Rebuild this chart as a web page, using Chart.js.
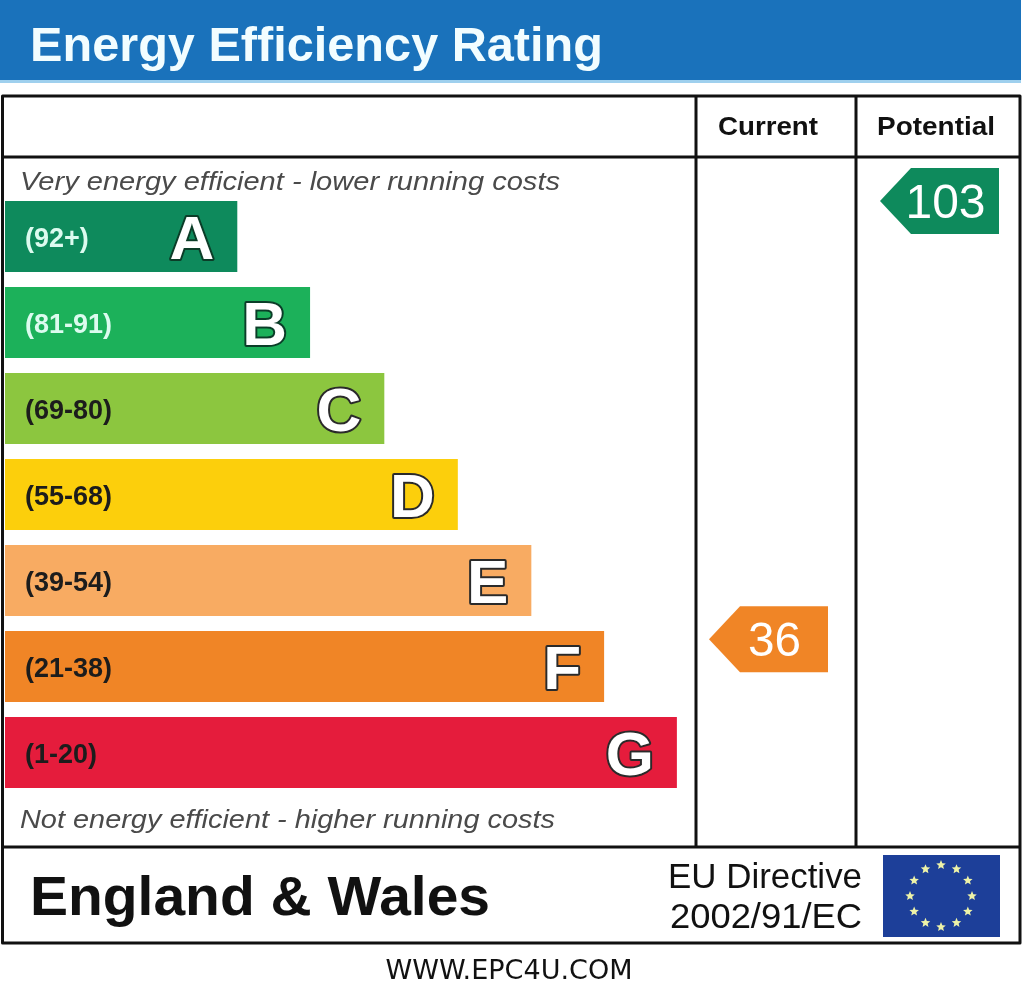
<!DOCTYPE html>
<html>
<head>
<meta charset="utf-8">
<title>Energy Efficiency Rating</title>
<script src="https://cdn.jsdelivr.net/npm/chart.js@4.4.0/dist/chart.umd.min.js"></script>
<style>
  html, body { margin: 0; padding: 0; background: #fff; }
  #wrap { width: 1024px; height: 993px; }
</style>
</head>
<body>
<div id="wrap"><canvas id="epcChart" width="1024" height="993"></canvas></div>
<script>
// Bands, most efficient first
var bandLetters = ['A', 'B', 'C', 'D', 'E', 'F', 'G'];
var bandRanges = ['(92+)', '(81-91)', '(69-80)', '(55-68)', '(39-54)', '(21-38)', '(1-20)'];
var bandMin = [92, 81, 69, 55, 39, 21, 1];
var bandMax = [100, 91, 80, 68, 54, 38, 20];
// relative bar length of each band
var bandLengths = [3.16, 4.15, 5.16, 6.16, 7.16, 8.15, 9.14];
var bandColors = ['#0e8a5c', '#1cb15a', '#8cc63f', '#fccf0c', '#f8ab62', '#f08526', '#e51c3c'];

var currentScore = 36;
var potentialScore = 103;

var FONT = 'Arial, "Liberation Sans", Arimo, Helvetica, sans-serif';
var LINE = '#111';

function bandOf(score) {
  for (var i = 0; i < bandMin.length; i++) {
    if (score >= bandMin[i]) return i;
  }
  return bandMin.length - 1;
}

// vertical position of a score inside its band's bar
function scoreY(chart, score) {
  var i = bandOf(score);
  var bar = chart.getDatasetMeta(0).data[i];
  var top = bar.y - bar.height / 2;
  var f = (bandMax[i] - score) / (bandMax[i] - bandMin[i]);
  f = Math.max(0, Math.min(1, f));
  return { y: top + f * bar.height, color: bandColors[i] };
}

// draw text stretched to a given width
function fitText(ctx, text, x, y, w, align) {
  var m = ctx.measureText(text).width;
  var left = align === 'center' ? x - w / 2 : (align === 'right' ? x - w : x);
  ctx.save();
  ctx.textAlign = 'left';
  ctx.translate(left, y);
  ctx.scale(w / m, 1);
  ctx.fillText(text, 0, 0);
  ctx.restore();
}

function drawArrow(ctx, tipX, rightX, cy, color, text, textW) {
  var h = 33, notch = 31;
  ctx.fillStyle = color;
  ctx.beginPath();
  ctx.moveTo(tipX, cy);
  ctx.lineTo(tipX + notch, cy - h);
  ctx.lineTo(rightX, cy - h);
  ctx.lineTo(rightX, cy + h);
  ctx.lineTo(tipX + notch, cy + h);
  ctx.closePath();
  ctx.fill();
  ctx.fillStyle = '#fff';
  ctx.font = '48px ' + FONT;
  ctx.textBaseline = 'alphabetic';
  fitText(ctx, text, (tipX + rightX) / 2 + 6, cy + 17, textW, 'center');
}

function drawStar(ctx, cx, cy, r) {
  ctx.beginPath();
  for (var k = 0; k < 10; k++) {
    var a = -Math.PI / 2 + k * Math.PI / 5;
    var rr = k % 2 === 0 ? r : r * 0.45;
    ctx.lineTo(cx + rr * Math.cos(a), cy + rr * Math.sin(a));
  }
  ctx.closePath();
  ctx.fill();
}

var epcPlugin = {
  id: 'epcFrame',
  beforeDraw: function(chart) {
    var ctx = chart.ctx;
    ctx.save();
    ctx.fillStyle = '#fff';
    ctx.fillRect(0, 0, chart.width, chart.height);
    // title band
    ctx.fillStyle = '#1a72bb';
    ctx.fillRect(0, 0, 1021, 80);
    ctx.fillStyle = '#9fd0ee';
    ctx.fillRect(0, 80, 1021, 3);
    ctx.fillStyle = '#f2fdff';
    ctx.font = 'bold 49px ' + FONT;
    ctx.textBaseline = 'alphabetic';
    fitText(ctx, 'Energy Efficiency Rating', 30, 61, 573, 'left');
    ctx.restore();
  },
  afterDatasetsDraw: function(chart) {
    var ctx = chart.ctx;
    var area = chart.chartArea;
    var bars = chart.getDatasetMeta(0).data;
    ctx.save();
    ctx.textBaseline = 'alphabetic';

    // band labels and letters
    bars.forEach(function(bar, i) {
      ctx.textAlign = 'left';
      ctx.font = 'bold 27px ' + FONT;
      ctx.fillStyle = i < 2 ? '#dcfbef' : '#1c1c1c';
      ctx.fillText(bandRanges[i], 25, bar.y + 10);

      ctx.font = 'bold 62px ' + FONT;
      ctx.textAlign = 'right';
      ctx.lineJoin = 'round';
      ctx.lineWidth = 4;
      ctx.strokeStyle = i < 2 ? '#0b3d28' : '#2a2a2a';
      ctx.strokeText(bandLetters[i], bar.x - 23, bar.y + 22);
      ctx.fillStyle = '#fff';
      ctx.fillText(bandLetters[i], bar.x - 23, bar.y + 22);
    });

    // italic captions
    ctx.fillStyle = '#4a4a4a';
    ctx.font = 'italic 26px ' + FONT;
    fitText(ctx, 'Very energy efficient - lower running costs', 20, 190, 540, 'left');
    fitText(ctx, 'Not energy efficient - higher running costs', 20, 828, 535, 'left');

    // table frame
    var colA = area.right, colB = 856, right = 1020;
    ctx.strokeStyle = LINE;
    ctx.lineWidth = 3;
    ctx.strokeRect(2.5, 96, right - 2.5, 847);
    ctx.beginPath();
    ctx.moveTo(2.5, 157); ctx.lineTo(right, 157);
    ctx.moveTo(2.5, 847); ctx.lineTo(right, 847);
    ctx.moveTo(colA, 96); ctx.lineTo(colA, 847);
    ctx.moveTo(colB, 96); ctx.lineTo(colB, 847);
    ctx.stroke();

    // column headers
    ctx.fillStyle = '#111';
    ctx.font = 'bold 26px ' + FONT;
    fitText(ctx, 'Current', (colA + colB) / 2 - 8, 135, 100, 'center');
    fitText(ctx, 'Potential', (colB + right) / 2 - 2, 135, 118, 'center');

    // rating arrows
    var cur = scoreY(chart, currentScore);
    drawArrow(ctx, colA + 13, colB - 28, cur.y, cur.color, String(currentScore), 53);
    var pot = scoreY(chart, potentialScore);
    drawArrow(ctx, colB + 24, right - 21, pot.y, pot.color, String(potentialScore), 80);

    // footer
    ctx.fillStyle = '#111';
    ctx.font = 'bold 56px ' + FONT;
    fitText(ctx, 'England & Wales', 30, 915, 460, 'left');
    ctx.font = '35px ' + FONT;
    fitText(ctx, 'EU Directive', 862, 888, 194, 'right');
    fitText(ctx, '2002/91/EC', 862, 928, 192, 'right');

    // EU flag
    ctx.fillStyle = '#1d3f99';
    ctx.fillRect(883, 855, 117, 82);
    ctx.fillStyle = '#eef3a8';
    for (var k = 0; k < 12; k++) {
      var a = k * Math.PI / 6;
      drawStar(ctx, 941 + 31 * Math.cos(a), 896 + 31 * Math.sin(a), 5);
    }

    ctx.fillStyle = '#111';
    ctx.font = '26px "DejaVu Sans", sans-serif';
    fitText(ctx, 'WWW.EPC4U.COM', 509, 979, 247, 'center');
    ctx.restore();
  }
};

var ctx = document.getElementById('epcChart').getContext('2d');
var epcChart = new Chart(ctx, {
  type: 'bar',
  data: {
    labels: bandLetters,
    datasets: [{
      data: bandLengths,
      backgroundColor: bandColors,
      borderWidth: 0,
      barPercentage: 0.826,
      categoryPercentage: 1
    }]
  },
  options: {
    indexAxis: 'y',
    responsive: false,
    animation: false,
    events: [],
    layout: { padding: { left: 5, right: 328, top: 193.5, bottom: 197.5 } },
    plugins: { legend: { display: false }, tooltip: { enabled: false } },
    scales: {
      x: { display: false, min: 0, max: 9.4 },
      y: { display: false }
    }
  },
  plugins: [epcPlugin]
});
</script>
</body>
</html>
